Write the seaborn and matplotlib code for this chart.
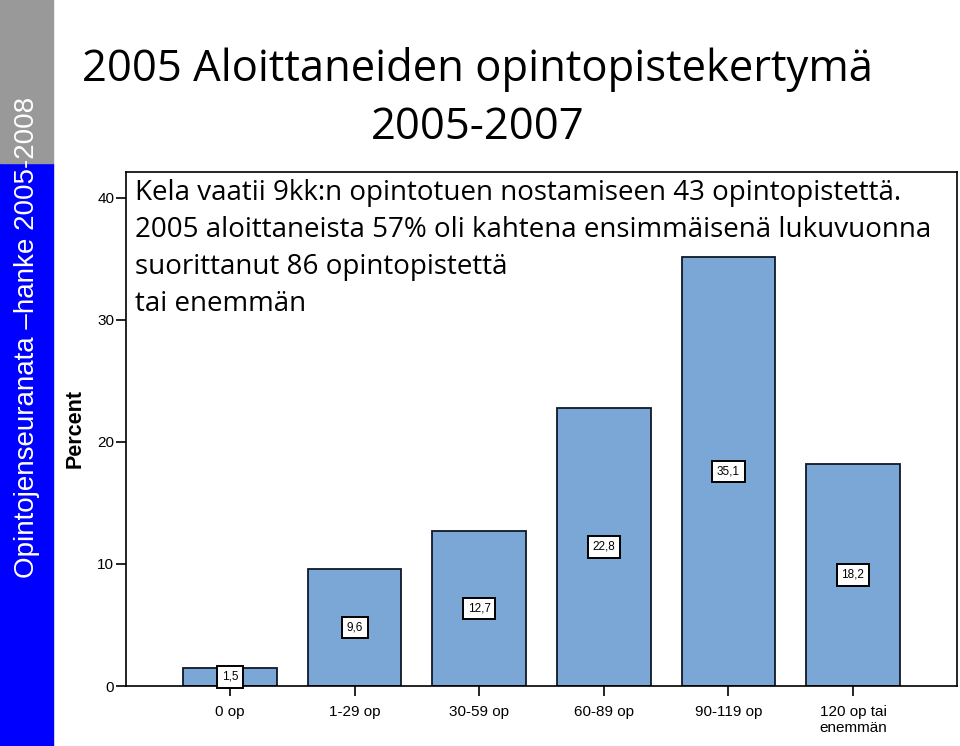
import matplotlib
matplotlib.use("Agg")
import matplotlib.pyplot as plt
import seaborn as sns
from matplotlib.patches import Rectangle

# data
categories = ["0 op", "1-29 op", "30-59 op", "60-89 op", "90-119 op", "120 op tai\nenemmän"]
percent = [1.5, 9.6, 12.7, 22.8, 35.1, 18.2]
value_labels = ["1,5", "9,6", "12,7", "22,8", "35,1", "18,2"]
y_ticks = [0, 10, 20, 30, 40]

title_line1 = "2005 Aloittaneiden opintopistekertymä"
title_line2 = "2005-2007"
note_lines = [
    "Kela vaatii 9kk:n opintotuen nostamiseen 43 opintopistettä.",
    "2005 aloittaneista 57% oli kahtena ensimmäisenä lukuvuonna",
    "suorittanut 86 opintopistettä",
    "tai enemmän",
]
sidebar_text = "Opintojenseuranata \u2013hanke 2005-2008"

sns.set_style("white")
plt.rcParams['font.family'] = ['Liberation Sans', 'DejaVu Sans']
plt.rcParams['text.color'] = 'black'
plt.rcParams['xtick.color'] = 'black'
plt.rcParams['ytick.color'] = 'black'
plt.rcParams['axes.labelcolor'] = 'black'

bar_color = "#7ba7d6"
edge_color = "#101828"
big_font = ["Open Sans", "DejaVu Sans"]

fig = plt.figure(figsize=(9.6, 7.46), dpi=100)
ax = fig.add_axes([126 / 960, 1 - 686 / 746, (957 - 126) / 960, (686 - 172) / 746])

sns.barplot(x=categories, y=percent, color=bar_color, edgecolor=edge_color,
            linewidth=1.3, width=0.75, saturation=1, ax=ax)

ax.set_xlim(-0.835, 5.835)
ax.set_ylim(0, 42.1)
ax.set_yticks(y_ticks)
ax.tick_params(axis="both", direction="out", length=7, width=1.2, color="black",
               bottom=True, left=True)
ax.tick_params(axis="y", labelsize=11, pad=1.5)
ax.tick_params(axis="x", labelsize=11, pad=7)
for lab in ax.get_xticklabels():
    lab.set_linespacing(1.15)
ax.set_xlabel("")
ax.set_ylabel("Percent", fontsize=15.5, fontweight="bold", labelpad=8)
for sp in ax.spines.values():
    sp.set_visible(True)
    sp.set_color("black")
    sp.set_linewidth(1.2)

# value boxes in the middle of each bar
for i, (v, txt) in enumerate(zip(percent, value_labels)):
    ax.text(i, v / 2, txt, ha="center", va="center", fontsize=8.5,
            bbox=dict(boxstyle="square,pad=0.4", fc="white", ec="black", lw=1.4))

# left sidebar
fig.patches.append(Rectangle((0, 0), 53 / 960, 1 - 163 / 746, transform=fig.transFigure,
                             color="#0000ff", zorder=0))
fig.patches.append(Rectangle((0, 1 - 163 / 746), 53 / 960, 163 / 746, transform=fig.transFigure,
                             color="#999999", zorder=0))
fig.text(27 / 960, 1 - 578 / 746, sidebar_text, rotation=90, color="white",
         fontsize=20, ha="center", va="bottom")

# titles
fig.text(82 / 960, 1 - 70 / 746, title_line1, fontsize=31.4, family=big_font,
         ha="left", va="center")
fig.text(478 / 960, 1 - 128 / 746, title_line2, fontsize=31.4, family=big_font,
         ha="center", va="center")

# note text over the plot
for k, line in enumerate(note_lines):
    fig.text(135 / 960, 1 - (193 + 37 * k) / 746, line, fontsize=20,
             family=big_font, ha="left", va="center")

fig.savefig("out.png", dpi=100)
